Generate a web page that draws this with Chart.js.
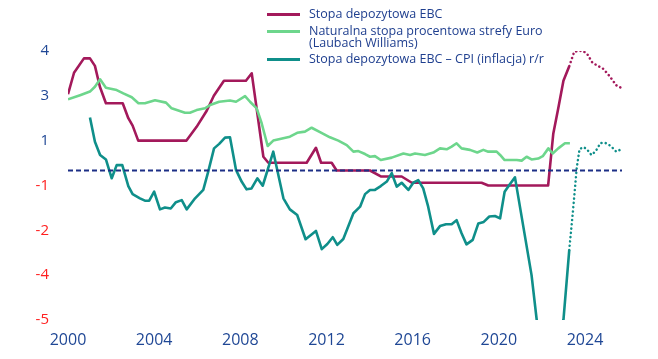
<!DOCTYPE html>
<html>
<head>
<meta charset="utf-8">
<script src="https://cdn.jsdelivr.net/npm/chart.js@4.4.0/dist/chart.umd.min.js"></script>
<style>
    body { margin: 0; background: #ffffff; }
    #wrap { position: relative; width: 658px; height: 359px; }
    #legend { position: absolute; left: 0; top: 0; width: 658px; height: 80px; font-family: "Open Sans", sans-serif; font-size: 12.5px; color: #1f3f8f; }
    .leg-line { position: absolute; left: 267px; width: 33px; height: 3px; }
    .leg-text { position: absolute; left: 309px; line-height: 12.5px; white-space: nowrap; }
</style>
</head>
<body>
<div id="wrap">
    <canvas id="myChart" width="658" height="359"></canvas>
    <div id="legend"></div>
</div>
<script>
// Stopa depozytowa EBC
const depoYears = [2000.0, 2000.28, 2000.74, 2001.02, 2001.25, 2001.48, 2001.76, 2002.54, 2002.8, 2003.0, 2003.26, 2005.5, 2005.97, 2006.44, 2006.77, 2007.24, 2008.26, 2008.53, 2009.07, 2009.3, 2011.08, 2011.51, 2011.75, 2012.24, 2012.47, 2014.02, 2014.52, 2015.49, 2015.96, 2019.2, 2019.51, 2022.29, 2022.53, 2022.76, 2023.0, 2023.27];
const depoValues = [2.55, 3.27, 3.75, 3.75, 3.5, 2.8, 2.25, 2.25, 1.75, 1.5, 1.0, 1.0, 1.46, 2.0, 2.5, 3.0, 3.0, 3.25, 0.46, 0.26, 0.26, 0.76, 0.26, 0.26, 0.0, 0.0, -0.2, -0.2, -0.41, -0.41, -0.5, -0.5, 1.24, 2.08, 3.0, 3.49];
const depoForecastYears = [2023.27, 2023.5, 2023.7, 2023.9, 2024.1, 2024.35, 2024.6, 2024.85, 2025.15, 2025.45, 2025.72];
const depoForecastValues = [3.49, 3.97, 4.0, 4.0, 3.9, 3.6, 3.5, 3.4, 3.15, 2.85, 2.75];

// Naturalna stopa procentowa (Laubach Williams)
const naturalYears = [2000.0, 2000.56, 2001.02, 2001.25, 2001.49, 2001.76, 2002.26, 2002.57, 2002.96, 2003.27, 2003.57, 2004.04, 2004.55, 2004.81, 2005.43, 2005.66, 2005.97, 2006.36, 2006.6, 2007.02, 2007.52, 2007.8, 2008.22, 2008.45, 2008.76, 2008.99, 2009.27, 2009.53, 2009.84, 2010.3, 2010.64, 2011.0, 2011.31, 2011.7, 2012.16, 2012.55, 2012.94, 2013.25, 2013.48, 2013.79, 2014.02, 2014.25, 2014.52, 2015.03, 2015.57, 2015.88, 2016.11, 2016.57, 2016.96, 2017.27, 2017.58, 2017.81, 2018.04, 2018.27, 2018.66, 2019.0, 2019.28, 2019.51, 2019.9, 2020.06, 2020.27, 2020.83, 2021.06, 2021.29, 2021.52, 2021.83, 2022.04, 2022.3, 2022.5, 2022.76, 2023.07, 2023.3];
const naturalValues = [2.38, 2.52, 2.64, 2.8, 3.05, 2.77, 2.69, 2.58, 2.45, 2.25, 2.25, 2.35, 2.27, 2.08, 1.93, 1.93, 2.02, 2.08, 2.19, 2.3, 2.34, 2.3, 2.49, 2.3, 2.08, 1.58, 0.82, 1.0, 1.05, 1.13, 1.26, 1.3, 1.43, 1.28, 1.11, 1.0, 0.85, 0.63, 0.65, 0.55, 0.46, 0.48, 0.35, 0.43, 0.57, 0.52, 0.57, 0.52, 0.6, 0.74, 0.71, 0.8, 0.91, 0.74, 0.69, 0.6, 0.69, 0.63, 0.63, 0.52, 0.35, 0.35, 0.33, 0.46, 0.37, 0.4, 0.48, 0.74, 0.57, 0.74, 0.91, 0.91];

// Stopa depozytowa EBC - CPI r/r
const realYears = [2001.02, 2001.25, 2001.49, 2001.76, 2002.03, 2002.26, 2002.52, 2002.8, 2003.0, 2003.34, 2003.57, 2003.77, 2004.0, 2004.27, 2004.5, 2004.77, 2005.01, 2005.28, 2005.51, 2005.9, 2006.28, 2006.51, 2006.78, 2007.02, 2007.29, 2007.52, 2007.8, 2008.06, 2008.29, 2008.52, 2008.79, 2009.04, 2009.53, 2010.0, 2010.3, 2010.64, 2011.03, 2011.51, 2011.78, 2012.04, 2012.29, 2012.5, 2012.78, 2013.25, 2013.56, 2013.79, 2014.02, 2014.25, 2014.52, 2014.8, 2015.03, 2015.26, 2015.49, 2015.8, 2016.03, 2016.26, 2016.49, 2016.72, 2016.99, 2017.27, 2017.55, 2017.81, 2018.04, 2018.27, 2018.5, 2018.79, 2019.05, 2019.3, 2019.56, 2019.82, 2020.06, 2020.27, 2020.52, 2020.75, 2021.52, 2021.76, 2022.4, 2023.0, 2023.27];
const realValues = [1.77, 0.96, 0.52, 0.37, -0.26, 0.18, 0.18, -0.52, -0.79, -0.93, -1.01, -1.01, -0.71, -1.3, -1.24, -1.27, -1.06, -0.99, -1.3, -0.93, -0.65, -0.04, 0.74, 0.89, 1.1, 1.11, 0.02, -0.37, -0.63, -0.6, -0.26, -0.51, 0.63, -0.93, -1.3, -1.49, -2.3, -2.02, -2.63, -2.46, -2.23, -2.49, -2.29, -1.43, -1.21, -0.79, -0.65, -0.65, -0.52, -0.37, -0.09, -0.54, -0.41, -0.65, -0.41, -0.32, -0.6, -1.21, -2.12, -1.86, -1.8, -1.8, -1.66, -2.1, -2.47, -2.32, -1.77, -1.72, -1.54, -1.52, -1.6, -0.71, -0.45, -0.23, -3.5, -5.0, -9.0, -5.0, -2.66];
const realForecastYears = [2023.27, 2023.45, 2023.62, 2023.75, 2023.95, 2024.1, 2024.3, 2024.5, 2024.72, 2024.95, 2025.2, 2025.45, 2025.72];
const realForecastValues = [-2.66, -1.3, 0.1, 0.72, 0.78, 0.7, 0.52, 0.65, 0.92, 0.92, 0.82, 0.63, 0.72];

// linia zera
const zeroYears = [2000, 2025.72];
const zeroValues = [0, 0];

const xTicks = [2000, 2004, 2008, 2012, 2016, 2020, 2024];
const yTickValues = [4, 2.5, 1, -0.5, -2, -3.5, -5];
const yTickLabels = ['4', '3', '1', '-1', '-2', '-4', '-5'];

const seriesLabels = [
    'Stopa depozytowa EBC',
    'Naturalna stopa procentowa strefy Euro<br>(Laubach Williams)',
    'Stopa depozytowa EBC – CPI (inflacja) r/r'
];
const purple = '#a3195b';
const green = '#6dd68c';
const teal = '#0f8f8a';
const navy = '#1c2f86';
const blue = '#1f4795';
const red = '#ff1f1f';

function toPoints(xs, ys) {
    let pts = [];
    for (let i = 0; i < xs.length; i++) {
        pts.push({ x: xs[i], y: ys[i] });
    }
    return pts;
}

// legenda
const legendTops = [12.5, 29.5, 57.5];
const legendTextTops = [7.5, 24.5, 52.5];
const legendColors = [purple, green, teal];
let legendHtml = '';
for (let i = 0; i < seriesLabels.length; i++) {
    legendHtml += `<div class="leg-line" style="top:${legendTops[i]}px; background:${legendColors[i]};"></div>`;
    legendHtml += `<div class="leg-text" style="top:${legendTextTops[i]}px;">${seriesLabels[i]}</div>`;
}
document.getElementById('legend').innerHTML = legendHtml;

const dotted = [0.1, 4.2];

let ctx = document.getElementById('myChart').getContext('2d');
let myChart = new Chart(ctx, {
    type: 'line',
    data: {
        datasets: [
            { data: toPoints(zeroYears, zeroValues), borderColor: navy, borderWidth: 1.8, borderDash: [5, 3] },
            { data: toPoints(naturalYears, naturalValues), borderColor: green, borderWidth: 2.6 },
            { data: toPoints(realYears, realValues), borderColor: teal, borderWidth: 2.6 },
            { data: toPoints(realForecastYears, realForecastValues), borderColor: teal, borderWidth: 2.5, borderDash: dotted, borderCapStyle: 'round' },
            { data: toPoints(depoYears, depoValues), borderColor: purple, borderWidth: 2.6 },
            { data: toPoints(depoForecastYears, depoForecastValues), borderColor: purple, borderWidth: 2.5, borderDash: dotted, borderCapStyle: 'round' }
        ]
    },
    options: {
        responsive: false,
        animation: false,
        layout: { padding: { left: 0, right: 8.4, top: 50.9, bottom: 0 } },
        elements: {
            point: { radius: 0 },
            line: { tension: 0, fill: false, borderJoinStyle: 'round' }
        },
        plugins: {
            legend: { display: false },
            tooltip: { enabled: false }
        },
        scales: {
            x: {
                type: 'linear',
                min: 2000,
                max: 2027,
                grid: { display: false, drawTicks: false },
                border: { display: false },
                afterBuildTicks: function (scale) {
                    scale.ticks = xTicks.map(v => ({ value: v }));
                },
                afterFit: function (scale) { scale.height = 39; },
                ticks: {
                    padding: 11,
                    color: blue,
                    font: { family: 'Open Sans', size: 16 },
                    callback: v => String(v)
                }
            },
            y: {
                type: 'linear',
                min: -5,
                max: 4,
                grid: { display: false, drawTicks: false },
                border: { display: false },
                afterBuildTicks: function (scale) {
                    scale.ticks = yTickValues.map(v => ({ value: v }));
                },
                afterFit: function (scale) { scale.width = 68; },
                ticks: {
                    padding: 19,
                    font: { family: 'Open Sans', size: 15 },
                    color: c => (c.tick && c.tick.value < 0) ? red : blue,
                    callback: function (value, index) { return yTickLabels[index]; }
                }
            }
        }
    }
});
</script>
</body>
</html>
